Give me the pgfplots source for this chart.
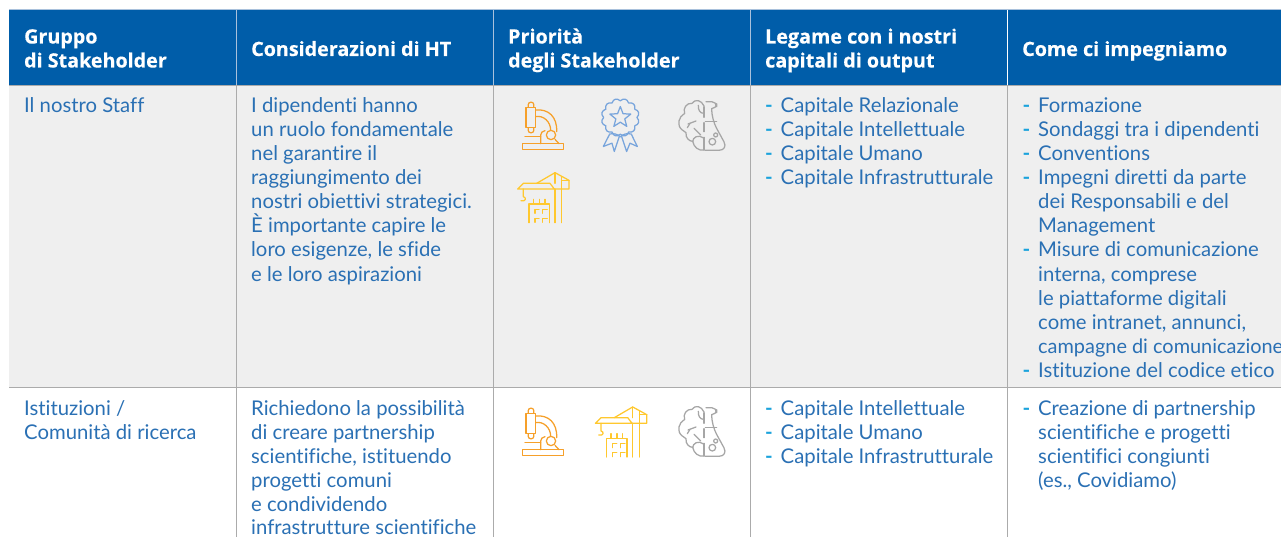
\documentclass[border=0pt]{standalone}
\usepackage{pgfplots}
\pgfplotsset{compat=1.18}
\usepackage{fontspec}
\setmainfont{Lato}[Ligatures=NoCommon]
\newfontfamily\hd{Open Sans}[BoldFeatures={FakeBold=0.35}]
\definecolor{hdr}{HTML}{005DA9}
\definecolor{rowg}{HTML}{EFEFEF}
\definecolor{sep}{HTML}{ABABAB}
\definecolor{hsep}{HTML}{A9C1DC}
\definecolor{txt}{HTML}{2A70B4}
\definecolor{dash}{HTML}{1BA3DC}
\definecolor{ior}{HTML}{F6A02A}
\definecolor{iye}{HTML}{FFC82E}
\definecolor{ibl}{HTML}{78A5DC}
\definecolor{igr}{HTML}{A6A6A6}
\newcommand{\Tx}[3]{\node[anchor=base west,inner sep=0pt,text=txt,font=\fontsize{20.3}{24}\selectfont] at (axis cs:#1,#2+1) {#3};}
\newcommand{\Dd}[3]{\node[anchor=base west,inner sep=0pt,text=dash,font=\fontsize{20.5}{24}\selectfont\bfseries] at (axis cs:#1,#2+1) {-};\Tx{#1+15.5}{#2}{#3}}
\newcommand{\Hh}[3]{\node[anchor=base west,inner sep=0pt,text=white,font=\hd\fontsize{19.7}{24}\selectfont\bfseries] at (axis cs:#1,#2+1) {#3};}
\newcommand{\micro}[2]{\begin{scope}[shift={(axis cs:#1,#2)},yscale=-1,scale=1/3,draw=ior,line width=1.25pt,line join=round,line cap=round]
\draw[rounded corners=2pt] (115pt,322pt) -- (115pt,307pt) -- (131pt,307pt) -- (131pt,322pt);
\draw (108pt,322pt) rectangle (137pt,383pt);
\draw[rounded corners=2pt] (115pt,383pt) -- (115pt,398pt) -- (131pt,398pt) -- (131pt,383pt);
\draw (137pt,330pt) .. controls (175pt,326pt) and (202pt,350pt) .. (200pt,395pt);
\draw (137pt,350pt) .. controls (160pt,345pt) and (182pt,365pt) .. (182pt,391pt);
\draw (183pt,405pt) circle (14pt);
\draw (98pt,431pt) rectangle (220pt,448pt);
\draw (105pt,410pt) -- (152pt,410pt);
\draw (152pt,431pt) -- (152pt,405pt) .. controls (152pt,398pt) and (158pt,393pt) .. (165pt,392pt);
\draw (195pt,418pt) -- (207pt,431pt);
\end{scope}}
\newcommand{\crane}[2]{\begin{scope}[shift={(axis cs:#1,#2)},yscale=-1,scale=1/3,draw=iye,line width=1.25pt,line join=round,line cap=round]
\draw (83pt,567pt) -- (100pt,550pt) -- (180pt,550pt) -- (193pt,567pt) -- cycle;
\draw (193pt,567pt) -- (237pt,567pt) -- (237pt,541pt) -- (195pt,518pt) -- (140pt,550pt);
\draw (195pt,518pt) -- (195pt,550pt);
\draw (215pt,541pt) -- (237pt,541pt);
\draw (195pt,567pt) -- (195pt,668pt);
\draw (215pt,530pt) -- (215pt,668pt);
\draw (100pt,567pt) -- (100pt,590pt) .. controls (110pt,592pt) and (108pt,606pt) .. (93pt,602pt);
\draw (117pt,668pt) -- (117pt,612pt) -- (178pt,612pt) -- (178pt,668pt);
\draw (130pt,598pt) -- (130pt,612pt);
\draw (148pt,598pt) -- (148pt,612pt);
\draw (165pt,598pt) -- (165pt,612pt);
\draw (135pt,640pt) -- (135pt,628pt) -- (147pt,628pt);
\draw (158pt,640pt) -- (158pt,628pt) -- (172pt,628pt);
\draw (135pt,667pt) -- (135pt,655pt) -- (147pt,655pt);
\draw (158pt,667pt) -- (158pt,655pt) -- (172pt,655pt);
\end{scope}}
\newcommand{\brain}[2]{\begin{scope}[shift={(axis cs:#1,#2)},yscale=-1,scale=1/3,draw=igr,line width=1.25pt,line join=round,line cap=round]
\draw (642pt,318pt) .. controls (635pt,300pt) and (615pt,296pt) .. (606pt,310pt) .. controls (590pt,308pt) and (578pt,325pt) .. (584pt,340pt) .. controls (566pt,350pt) and (558pt,376pt) .. (577pt,390pt) .. controls (580pt,392pt) and (584pt,395pt) .. (588pt,398pt) .. controls (586pt,414pt) and (598pt,424pt) .. (608pt,424pt) .. controls (612pt,442pt) and (625pt,453pt) .. (642pt,450pt);
\draw (642pt,320pt) -- (642pt,352pt);
\draw (642pt,368pt) -- (642pt,395pt);
\draw (642pt,412pt) -- (642pt,450pt);
\draw (625pt,316pt) .. controls (624pt,330pt) and (630pt,340pt) .. (641pt,340pt);
\draw (594pt,372pt) -- (618pt,363pt);
\draw (600pt,370pt) -- (592pt,383pt);
\draw (612pt,385pt) -- (632pt,405pt);
\draw (608pt,425pt) .. controls (608pt,412pt) and (625pt,402pt) .. (641pt,414pt);
\draw[rounded corners=5pt] (648pt,305pt) -- (680pt,305pt) -- (680pt,326pt) -- (665pt,326pt);
\draw[rounded corners=10pt] (665pt,326pt) -- (665pt,358pt) -- (716pt,451pt) -- (645pt,451pt);
\draw (646pt,365pt) -- (680pt,365pt);
\draw (677pt,405pt) circle (6pt);
\draw (667pt,425pt) circle (10pt);
\end{scope}}
\begin{document}
\begin{tikzpicture}
\begin{axis}[
  scale only axis,width=1281pt,height=537pt,
  xmin=0,xmax=1281,ymin=0,ymax=537,y dir=reverse,
  axis lines=none,clip=true,
]
% table grounds and rules
\addplot[draw=none,fill=white,forget plot] coordinates {(0,0) (1281,0) (1281,537) (0,537)} -- cycle;
\addplot[draw=none,fill=rowg,forget plot] coordinates {(9,85) (1281,85) (1281,387) (9,387)} -- cycle;
\addplot[draw=none,fill=hdr,forget plot] coordinates {(9,10) (1281,10) (1281,85) (9,85)} -- cycle;
\addplot[hsep,line width=0.7pt,forget plot] coordinates {(9,9.7) (1281,9.7)};
\addplot[sep,line width=0.8pt,forget plot] coordinates {(9,85) (1281,85)};
\addplot[sep,line width=1.2pt,forget plot] coordinates {(9,387.5) (1281,387.5)};
\addplot[hsep,line width=0.9pt,forget plot] coordinates {(236,10) (236,85)};
\addplot[hsep,line width=0.9pt,forget plot] coordinates {(493,10) (493,85)};
\addplot[hsep,line width=0.9pt,forget plot] coordinates {(750,10) (750,85)};
\addplot[white,line width=0.9pt,forget plot] coordinates {(1007,10) (1007,85)};
\addplot[sep,line width=1pt,forget plot] coordinates {(236,85) (236,537)};
\addplot[sep,line width=1pt,forget plot] coordinates {(493,85) (493,537)};
\addplot[sep,line width=1pt,forget plot] coordinates {(750,85) (750,537)};
\addplot[sep,line width=1pt,forget plot] coordinates {(1007,85) (1007,537)};
% header
\Hh{24}{42.5}{Gruppo}
\Hh{24}{66.5}{di Stakeholder}
\Hh{251}{55}{Considerazioni di HT}
\Hh{508}{42.5}{Priorità}
\Hh{508}{66.5}{degli Stakeholder}
\Hh{765}{42.5}{Legame con i nostri}
\Hh{765}{66.5}{capitali di output}
\Hh{1022}{55}{Come ci impegniamo}
% row 1
\Tx{24}{112}{Il nostro Staff}
\Tx{251}{112}{I dipendenti hanno}
\Tx{251}{136}{un ruolo fondamentale}
\Tx{251}{160}{nel garantire il}
\Tx{251}{184}{raggiungimento dei}
\Tx{251}{208}{nostri obiettivi strategici.}
\Tx{251}{232}{È importante capire le}
\Tx{251}{256}{loro esigenze, le sfide}
\Tx{251}{280}{e le loro aspirazioni}
\Dd{765}{112}{Capitale Relazionale}
\Dd{765}{136}{Capitale Intellettuale}
\Dd{765}{160}{Capitale Umano}
\Dd{765}{184}{Capitale Infrastrutturale}
\Dd{1022.5}{112}{Formazione}
\Dd{1022.5}{136}{Sondaggi tra i dipendenti}
\Dd{1022.5}{160}{Conventions}
\Dd{1022.5}{184}{Impegni diretti da parte}
\Tx{1038}{208}{dei Responsabili e del}
\Tx{1038}{232}{Management}
\Dd{1022.5}{256}{Misure di comunicazione}
\Tx{1038}{280}{interna, comprese}
\Tx{1038}{304}{le piattaforme digitali}
\Tx{1038}{328}{come intranet, annunci,}
\Tx{1038}{352}{\fontsize{19.9}{24}\selectfont campagne di comunicazione}
\Dd{1022.5}{376}{Istituzione del codice etico}
% row 2
\Tx{24}{414}{Istituzioni /}
\Tx{24}{438}{Comunità di ricerca}
\Tx{251}{414}{Richiedono la possibilità}
\Tx{251}{438}{di creare partnership}
\Tx{251}{462}{scientifiche, istituendo}
\Tx{251}{486}{progetti comuni}
\Tx{251}{510}{e condividendo}
\Tx{251}{533.5}{infrastrutture scientifiche}
\Dd{765}{414}{Capitale Intellettuale}
\Dd{765}{438}{Capitale Umano}
\Dd{765}{462}{Capitale Infrastrutturale}
\Dd{1022.5}{414}{Creazione di partnership}
\Tx{1038}{438}{scientifiche e progetti}
\Tx{1038}{462}{scientifici congiunti}
\Tx{1038}{486}{(es., Covidiamo)}
% icons
\micro{490}{0}
\micro{490}{306}
\brain{490}{0}
\brain{490}{306}
\crane{490}{0}
\crane{567.7}{234.3}
\begin{scope}[shift={(axis cs:620.3,117.5)},yscale=-1,scale=1/3,draw=ibl,line width=1.25pt,line join=round,line cap=round]
\draw (0:50pt) .. controls (10:60pt) and (20:60pt) .. (30:50pt) .. controls (40:60pt) and (50:60pt) .. (60:50pt) .. controls (70:60pt) and (80:60pt) .. (90:50pt) .. controls (100:60pt) and (110:60pt) .. (120:50pt) .. controls (130:60pt) and (140:60pt) .. (150:50pt) .. controls (160:60pt) and (170:60pt) .. (180:50pt) .. controls (190:60pt) and (200:60pt) .. (210:50pt) .. controls (220:60pt) and (230:60pt) .. (240:50pt) .. controls (250:60pt) and (260:60pt) .. (270:50pt) .. controls (280:60pt) and (290:60pt) .. (300:50pt) .. controls (310:60pt) and (320:60pt) .. (330:50pt) .. controls (340:60pt) and (350:60pt) .. (360:50pt);
\draw (-90:33pt) -- (-54:14pt) -- (-18:33pt) -- (18:14pt) -- (54:33pt) -- (90:14pt) -- (126:33pt) -- (162:14pt) -- (198:33pt) -- (234:14pt) -- cycle;
\draw (-33pt,52pt) -- (-51pt,87pt) -- (-25pt,77pt) -- (-18pt,102pt) -- (-3pt,57pt);
\draw (4pt,57pt) -- (19pt,102pt) -- (29pt,77pt) -- (51pt,87pt) -- (34pt,52pt);
\draw (-33pt,50pt) .. controls (-20pt,46pt) and (-8pt,50pt) .. (0pt,58pt) .. controls (8pt,50pt) and (20pt,46pt) .. (34pt,50pt);
\end{scope}
\end{axis}
\end{tikzpicture}
\end{document}
